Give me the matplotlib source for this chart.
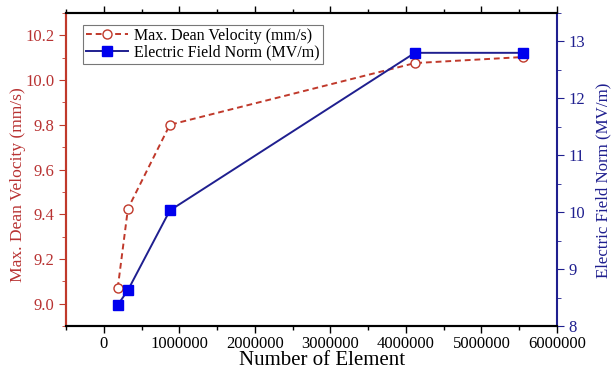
import matplotlib
matplotlib.use("Agg")
import matplotlib.pyplot as plt
from matplotlib.ticker import MultipleLocator

plt.rcParams['font.family'] = ['Liberation Serif', 'DejaVu Serif']

elements = [185000, 320000, 875000, 4120000, 5550000]
dean_velocity = [9.07, 9.425, 9.80, 10.076, 10.103]
elements_e = [185000, 320000, 875000, 4120000, 5550000]
efield = [8.37, 8.63, 10.03, 12.8, 12.8]

red = '#c0392b'
redtxt = '#b83232'
navy = '#1f1f8f'
blue = '#0000ee'

fig = plt.figure(figsize=(6.14, 3.69), dpi=100)
ax = fig.add_axes([0.1075, 0.1165, 0.7995, 0.8483])
ax2 = ax.twinx()

l1, = ax.plot(elements, dean_velocity, linestyle=(0, (3, 2)), color=red, lw=1.4,
              marker='o', markersize=6.5, markerfacecolor='white',
              markeredgecolor=red, markeredgewidth=1.0,
              label='Max. Dean Velocity (mm/s)')
l2, = ax2.plot(elements_e, efield, linestyle='-', color=navy, lw=1.4,
               marker='s', markersize=6.5, markerfacecolor=blue,
               markeredgecolor=blue, label='Electric Field Norm (MV/m)')

ax.set_xlim(-500000, 6000000)
ax.set_ylim(8.9, 10.3)
ax2.set_ylim(8, 13.5)

ax.xaxis.set_major_locator(MultipleLocator(1000000))
ax.xaxis.set_minor_locator(MultipleLocator(500000))
ax.yaxis.set_major_locator(MultipleLocator(0.2))
ax.yaxis.set_minor_locator(MultipleLocator(0.1))
ax2.yaxis.set_major_locator(MultipleLocator(1))
ax2.yaxis.set_minor_locator(MultipleLocator(0.5))

ax.xaxis.set_major_formatter(matplotlib.ticker.FuncFormatter(lambda v, p: f"{int(round(v))}"))
ax.yaxis.set_major_formatter(matplotlib.ticker.FormatStrFormatter('%.1f'))

ax.tick_params(axis='x', which='both', direction='out', top=True, labelsize=12, colors='black', pad=2.5)
ax.tick_params(axis='x', which='major', length=5, width=1)
ax.tick_params(axis='x', which='minor', length=3, width=1)
ax.tick_params(axis='y', which='both', direction='out', color=red, labelcolor=redtxt, labelsize=12)
ax.tick_params(axis='y', which='major', length=5)
ax.tick_params(axis='y', which='minor', length=3)
ax2.tick_params(axis='y', which='both', direction='out', color=navy, labelcolor=navy, labelsize=12)
ax2.tick_params(axis='y', which='major', length=5)
ax2.tick_params(axis='y', which='minor', length=3)

for s in ['top', 'bottom']:
    ax.spines[s].set_linewidth(1.5)
    ax2.spines[s].set_linewidth(1.5)
ax2.spines['left'].set_color(red)
ax2.spines['left'].set_linewidth(1.5)
ax.spines['left'].set_color(red)
ax.spines['left'].set_linewidth(1.5)
ax2.spines['right'].set_color(navy)
ax2.spines['right'].set_linewidth(1.5)
ax.spines['right'].set_visible(False)

ax.set_xlabel('Number of Element', fontsize=15)
ax.xaxis.label.set_va('baseline')
ax.xaxis.set_label_coords(0.521, -0.1246)

ax.set_ylabel('Max. Dean Velocity (mm/s)', fontsize=12.6, color=redtxt)
ax.yaxis.label.set_va('center')
ax.yaxis.set_label_coords(-0.0988, 0.452)

ax2.set_ylabel('Electric Field Norm (MV/m)', fontsize=12.2, color=navy)
ax2.yaxis.label.set_va('center')
ax2.yaxis.set_label_coords(1.0957, 0.464)

leg = ax.legend(handles=[l1, l2], loc='upper left', bbox_to_anchor=(0.035, 0.963),
                fontsize=11.5, frameon=True, fancybox=False, edgecolor='#555555',
                handlelength=2.6, borderpad=0.2, labelspacing=0.05, handletextpad=0.4,
                borderaxespad=0)
leg.get_frame().set_linewidth(0.8)

fig.savefig('out.png', dpi=100)
